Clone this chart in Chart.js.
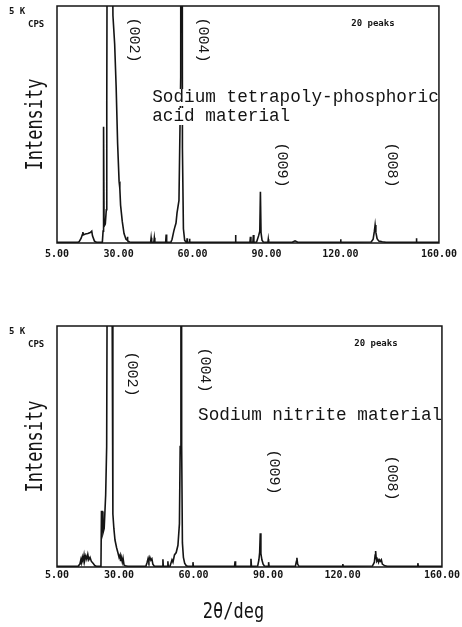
<!DOCTYPE html>
<html>
<head>
<meta charset="utf-8">
<script src="https://cdn.jsdelivr.net/npm/chart.js@4.4.1/dist/chart.umd.min.js"></script>
<style>
  html, body { margin: 0; padding: 0; background: #fff; }
  body { width: 462px; height: 627px; position: relative; overflow: hidden; }
  canvas { position: absolute; left: 0; }
  #grafTetra { top: 0; }
  #grafNitrito { top: 300px; }
</style>
</head>
<body>
<canvas id="grafTetra" width="462" height="272"></canvas>
<canvas id="grafNitrito" width="462" height="327"></canvas>
<script>

const xTicks = [5, 30, 60, 90, 120, 160];

const tetraDeg = [
    5.0, 13.5, 14.0, 14.8, 15.3, 15.5, 15.7, 16.5, 17.5, 18.5, 19.1, 19.4, 20.2, 21.0,
    23.4, 23.7, 23.9, 24.1, 24.6, 25.0, 25.2, 25.6, 26.4, 27.2, 27.7, 28.4, 29.0, 29.6,
    30.2, 30.5, 30.8, 31.5, 32.2, 33.0, 33.5, 33.6, 33.7, 34.5, 36.0,
    43.0, 43.2, 43.4, 44.3, 44.5, 44.7, 49.1, 49.3, 49.5,
    51.2, 51.7, 52.4, 52.9, 53.3, 53.7, 54.5, 55.2, 55.55, 55.9, 56.3, 56.8, 57.3,
    57.7, 57.8, 57.9, 58.7, 58.8, 58.9,
    77.3, 77.45, 77.6, 83.3, 83.5, 83.7, 84.5, 84.7, 84.9,
    86.0, 86.8, 87.3, 87.55, 87.8, 88.2, 88.7, 90.6, 90.75, 90.9,
    100.5, 101.6, 102.7, 120.0, 120.1, 120.25,
    132.5, 133.3, 133.8, 134.1, 134.4, 134.9, 135.6, 137.0, 138.5,
    150.7, 150.85, 151.0, 160.0
];
const tetraCps = [
    15, 15, 30, 100, 180, 230, 170, 190, 200, 220, 250, 150, 40, 15,
    15, 250, 2450, 350, 400, 700, 3000, 12000, 20000, 8000, 4800, 4200, 3300, 2100,
    1300, 1150, 800, 450, 200, 80, 60, 130, 50, 20, 15,
    15, 110, 15, 15, 110, 15, 15, 180, 15,
    15, 80, 250, 350, 420, 630, 900, 3500, 30000, 2000, 300, 60, 20,
    15, 100, 15, 15, 90, 15,
    15, 170, 15, 15, 130, 15, 15, 170, 15,
    20, 150, 250, 1080, 220, 60, 20, 15, 80, 15,
    15, 45, 15, 15, 80, 15,
    20, 80, 250, 380, 230, 90, 40, 25, 15,
    15, 100, 15, 15
];

const nitritoDeg = [
    5.0, 13.5, 14.2, 14.6, 14.8, 15.2, 15.5, 15.9, 16.2, 16.6, 17.0, 17.4, 17.8, 18.3, 18.8, 19.5, 20.2, 20.8,
    22.7, 22.9, 23.3, 23.5, 24.0, 24.6, 25.0, 25.2, 26.2, 27.2, 27.5, 27.9, 28.35, 29.0, 29.56,
    30.0, 30.4, 30.6, 30.9, 31.3, 31.6, 32.0, 32.5, 33.5,
    40.8, 41.3, 41.7, 42.0, 42.4, 42.8, 43.2, 43.6, 44.2,
    47.5, 47.65, 47.8, 49.5, 49.65, 49.8,
    50.5, 51.3, 51.7, 52.3, 53.0, 53.7, 54.3, 54.6, 54.9, 55.2, 55.5, 55.9, 56.4, 57.0, 57.5,
    59.6, 59.75, 59.9, 76.5, 76.7, 76.9, 82.9, 83.1, 83.3,
    85.8, 86.3, 86.6, 86.85, 87.1, 87.5, 88.0, 88.5, 90.0, 90.2, 90.4,
    101.0, 101.4, 101.6, 101.9, 102.4, 120.0, 120.1, 120.25,
    132.0, 132.8, 133.1, 133.3, 133.5, 133.8, 134.2, 134.5, 134.8, 135.2, 135.6, 136.0, 137.0, 138.0,
    150.1, 150.3, 150.5, 160.0
];
const nitritoCps = [
    15, 15, 60, 150, 90, 200, 120, 250, 140, 230, 160, 260, 150, 200, 120, 80, 30, 15,
    15, 1150, 1150, 700, 800, 1500, 2500, 6000, 20000, 5500, 1100, 800, 560, 400, 290,
    200, 250, 120, 200, 100, 180, 40, 25, 15,
    15, 100, 180, 120, 200, 140, 170, 60, 15,
    15, 160, 15, 15, 120, 15,
    15, 150, 100, 250, 300, 450, 900, 2500, 30000, 2500, 500, 200, 80, 30, 15,
    15, 100, 15, 15, 120, 15, 15, 170, 15,
    20, 150, 300, 700, 280, 150, 60, 20, 15, 100, 15,
    15, 120, 190, 60, 15, 15, 60, 15,
    20, 100, 250, 330, 200, 120, 150, 100, 150, 120, 150, 60, 25, 15,
    15, 80, 15, 15
];

const hklTextos = ['(002)', '(004)', '(009)', '(008)'];

// --- textos e posições das anotações (em unidades dos eixos) ---

const anotTetra = {
    materialTxt: ['Sodium tetrapoly-phosphoric', 'acid material'],
    materialDeg: 43.65,
    materialCps: [2975, 2574],
    hklDeg: [36.2, 64.4, 96.2, 140.9],
    hklCps: [4283, 4283, 1646, 1646]
};

const anotNitrito = {
    materialTxt: ['Sodium nitrite material'],
    materialDeg: 61.8,
    materialCps: [3050],
    hklDeg: [35.0, 64.4, 92.2, 139.7],
    hklCps: [4004, 4087, 1971, 1846],
    xTitulo: '2θ/deg'
};

const corTinta = '#141414';

// --- plugin que desenha moldura e textos ---

const moldura = {
    id: 'moldura',
    afterDatasetsDraw(chart, args, cfg) {
        const { ctx, chartArea: a, scales: { x, y } } = chart;
        ctx.save();
        ctx.fillStyle = corTinta;

        // texto do material com fundo branco (tapa a linha do pico)
        ctx.font = '17.7px "Liberation Mono"';
        ctx.textAlign = 'left';
        ctx.textBaseline = 'alphabetic';
        cfg.materialTxt.forEach((linha, i) => {
            const px = x.getPixelForValue(cfg.materialDeg);
            const py = y.getPixelForValue(cfg.materialCps[i]);
            const w = ctx.measureText(linha).width;
            ctx.fillStyle = '#fff';
            ctx.fillRect(px - 2, py - 13, w + 3, 17);
            ctx.fillStyle = corTinta;
            ctx.fillText(linha, px, py);
        });

        // índices (hkl) na vertical
        ctx.font = '15px "Liberation Mono"';
        ctx.textAlign = 'center';
        ctx.textBaseline = 'middle';
        hklTextos.forEach((t, i) => {
            ctx.save();
            ctx.translate(x.getPixelForValue(cfg.hklDeg[i]), y.getPixelForValue(cfg.hklCps[i]));
            ctx.rotate(Math.PI / 2);
            ctx.fillText(t, 0, 0);
            ctx.restore();
        });

        // "20 peaks"
        ctx.font = 'bold 9px "DejaVu Sans Mono"';
        ctx.fillText('20 peaks', a.right - 66, a.top + 18);

        // escala do eixo y
        ctx.textAlign = 'left';
        ctx.textBaseline = 'top';
        ctx.fillText('5 K', a.left - 48, a.top + 1);
        ctx.fillText('CPS', a.left - 29, a.top + 14);

        // "Intensity" esticado na vertical
        ctx.save();
        ctx.translate(a.left - 21, (a.top + a.bottom) / 2);
        ctx.rotate(-Math.PI / 2);
        ctx.scale(1, 1.35);
        ctx.font = '17px "DejaVu Sans Mono"';
        ctx.textAlign = 'center';
        ctx.textBaseline = 'middle';
        ctx.fillText('Intensity', 0, 0);
        ctx.restore();

        // título do eixo x (só no gráfico de baixo)
        if (cfg.xTitulo) {
            ctx.save();
            ctx.translate((a.left + a.right) / 2 - 16, a.bottom + 51);
            ctx.scale(1, 1.25);
            ctx.font = '17px "DejaVu Sans Mono"';
            ctx.textAlign = 'center';
            ctx.textBaseline = 'alphabetic';
            ctx.fillText(cfg.xTitulo, 0, 0);
            ctx.restore();
        }

        // moldura do gráfico
        ctx.strokeStyle = corTinta;
        ctx.lineWidth = 1.5;
        ctx.strokeRect(a.left, a.top, a.right - a.left, a.bottom - a.top);
        ctx.restore();
    }
};

function montarPontos(graus, cps) {
    return graus.map((g, i) => ({ x: g, y: cps[i] }));
}

function criarGrafico(idCanvas, graus, cps, anot, pad, alturaEixoX, padTicks) {
    const ctx = document.getElementById(idCanvas).getContext('2d');
    return new Chart(ctx, {
        type: 'line',
        data: {
            datasets: [{
                data: montarPontos(graus, cps),
                borderColor: corTinta,
                borderWidth: 1.6,
                pointRadius: 0,
                tension: 0,
                fill: false
            }]
        },
        options: {
            responsive: false,
            animation: false,
            layout: { padding: pad },
            plugins: {
                legend: { display: false },
                tooltip: { enabled: false },
                moldura: anot
            },
            scales: {
                x: {
                    type: 'linear',
                    min: 5,
                    max: 160,
                    grid: { display: false, drawTicks: false },
                    border: { display: false },
                    afterBuildTicks: (scale) => {
                        scale.ticks = xTicks.map(v => ({ value: v }));
                    },
                    afterFit: (scale) => { scale.height = alturaEixoX; },
                    ticks: {
                        padding: padTicks,
                        maxRotation: 0,
                        autoSkip: false,
                        color: corTinta,
                        font: { family: '"DejaVu Sans Mono"', size: 10, weight: 'bold' },
                        callback: (v) => Number(v).toFixed(2)
                    }
                },
                y: {
                    display: false,
                    min: 0,
                    max: 5000
                }
            }
        },
        plugins: [moldura]
    });
}

criarGrafico('grafTetra', tetraDeg, tetraCps, anotTetra,
    { left: 57, right: 20, top: 6, bottom: 0 }, 29, 5);
criarGrafico('grafNitrito', nitritoDeg, nitritoCps, anotNitrito,
    { left: 57, right: 17, top: 26, bottom: 0 }, 60, 2);
</script>
</body>
</html>
